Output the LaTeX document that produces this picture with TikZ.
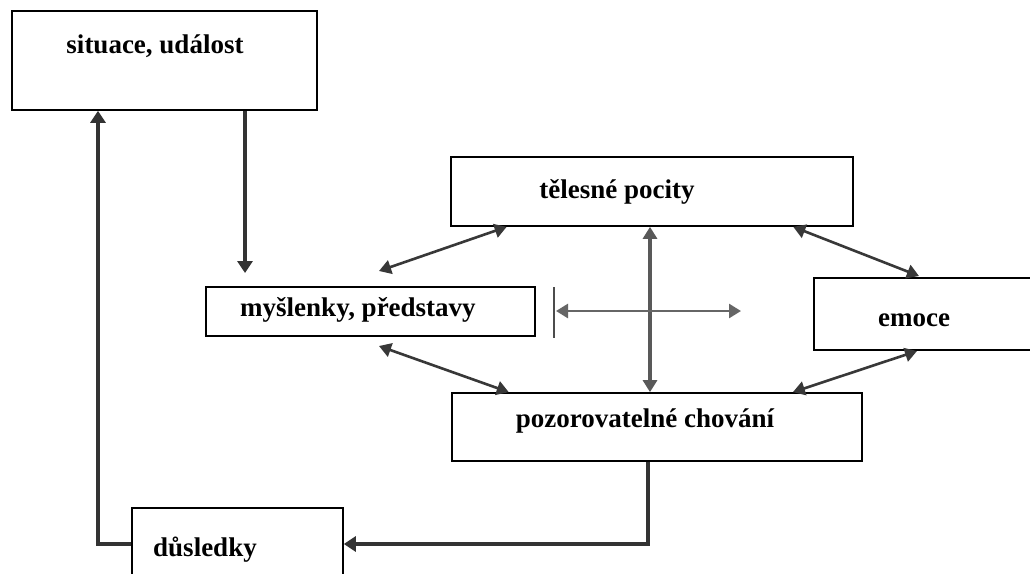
\documentclass[tikz,border=0pt]{standalone}
\usepackage{fontspec}
\setmainfont{Liberation Serif}
\usetikzlibrary{arrows.meta,calc}
\begin{document}
\begin{tikzpicture}[x=1pt,y=-1pt,
  box/.style={draw=black,line width=1.7pt,fill=white,rectangle,inner sep=0pt},
  lbl/.style={font=\fontsize{27}{30}\selectfont\bfseries,inner sep=0pt,anchor=base},
  tip/.style={Triangle[length=12pt,width=14pt]},
  conn/.style={draw=black!80,line width=3.2pt,-{Triangle[length=12pt,width=15pt]}},
  dconn/.style={draw=black!78,line width=2.6pt,{Triangle[length=12pt,width=14pt]}-{Triangle[length=12pt,width=14pt]}},
  thickd/.style={dconn,line width=3.8pt,draw=black!65}]
\useasboundingbox (0,0) rectangle (1030,573);
\clip (0,0) rectangle (1030,573);
\fill[white] (0,0) rectangle (1030,573);
% boxes
\node[box,minimum width=305pt,minimum height=99pt] (sit) at (164.5,60.5) {};
\node[box,minimum width=329pt,minimum height=49pt] (mys) at (370.5,311.5) {};
\node[box,minimum width=402pt,minimum height=69pt] (tel) at (652,191.5) {};
\node[box,minimum width=226pt,minimum height=72pt] (emo) at (927,314) {};
\node[box,minimum width=410pt,minimum height=68pt] (poz) at (657,427) {};
\node[box,minimum width=211pt,minimum height=80pt] (dus) at (237.5,548) {};
% labels
\node[lbl] (sitT) at (155,53) {situace, událost};
\node[lbl] (mysT) at (358,316) {myšlenky, představy};
\node[lbl] (telT) at (617,198) {tělesné pocity};
\node[lbl] (emoT) at (914,326) {emoce};
\node[lbl] (pozT) at (645,427) {pozorovatelné chování};
\node[lbl] (dusT) at (205,556) {důsledky};
% free-end coordinates
\coordinate (mysIn) at (245,273);
\coordinate (c1) at (98,544);
\coordinate (c2) at (648,544);
\coordinate (vx) at (650,311);
\coordinate (barT) at (554,287);
\coordinate (barB) at (554,338);
\coordinate (hL) at (556,311);
\coordinate (hR) at (741,311);
\coordinate (dA) at (379,271);
\coordinate (dB) at (379,346);
\coordinate (dC) at (919,276);
\coordinate (dD) at (917,351);
% connectors
\draw[conn] (sit.south -| mysIn) -- (mysIn);
\draw[conn] (dus.west |- c1) -- (c1) -- (sit.south -| c1);
\draw[conn] (poz.south -| c2) -- (c2) -- (dus.east |- c2);
\draw[thickd] (tel.south -| vx) -- (poz.north -| vx);
\draw[draw=black!70,line width=1.3pt] (barT) -- (barB);
\draw[dconn,draw=black!60] (hL) -- (hR);
\draw[dconn] (dA) -- ($(tel.south west)!0.14!(tel.south east)$);
\draw[dconn] (dB) -- ($(poz.north west)!0.14!(poz.north east)$);
\draw[dconn] ($(tel.south west)!0.85!(tel.south east)$) -- (dC);
\draw[dconn] (dD) -- ($(poz.north west)!0.83!(poz.north east)$);
\end{tikzpicture}
\end{document}
